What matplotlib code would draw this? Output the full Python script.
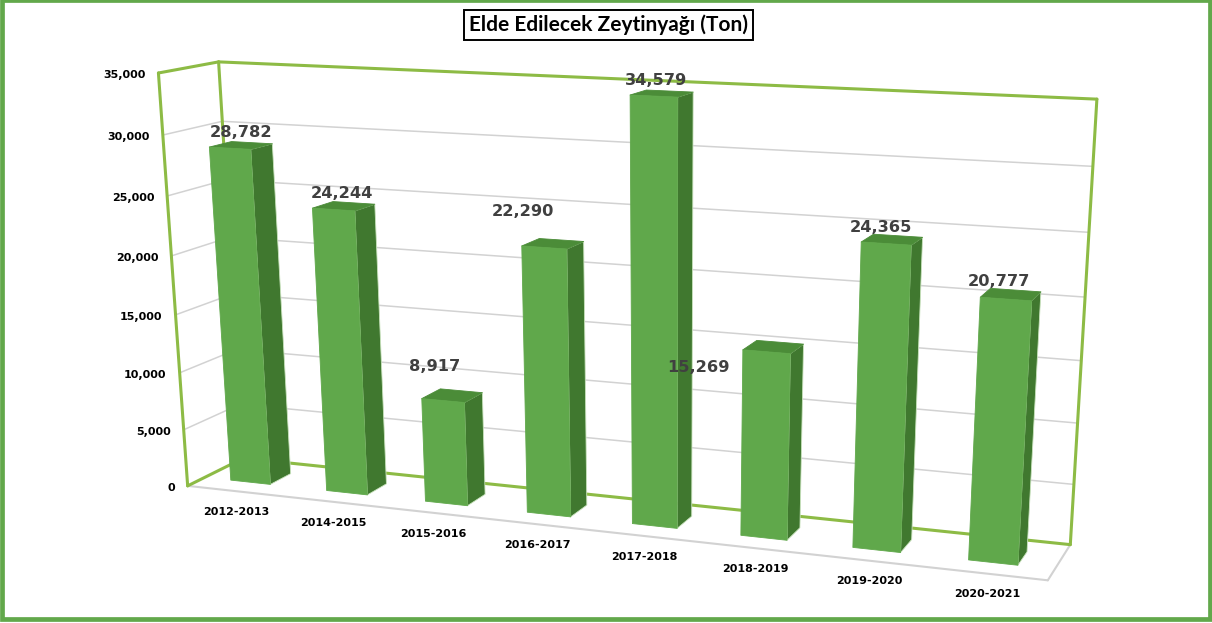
import numpy as np
import matplotlib
matplotlib.use('Agg')
import matplotlib.pyplot as plt
from matplotlib.patches import Rectangle

# data
categories = ['2012-2013', '2014-2015', '2015-2016', '2016-2017',
              '2017-2018', '2018-2019', '2019-2020', '2020-2021']
values = [28782, 24244, 8917, 22290, 34579, 15269, 24365, 20777]
y_ticks = [0, 5000, 10000, 15000, 20000, 25000, 30000, 35000]
y_max = 35000

# value label offsets from the top centre of each bar (pixels)
label_dx = [11, 8, -8, -21, 2, -68, -5, -7]
label_dy = [-16, -16, -34, -36, -16, 16, -16, -18]

GREEN_WALL = '#8DBB45'
GREY = '#D2D2D2'
FRONT = '#60A84B'
SIDE = '#40782F'
TOP = '#4B8C38'

W, H = 1212, 623

# camera fit: wall corners in unit cube (x, value, depth) -> pixels
cube = np.array([[0, 0, 0], [1, 0, 0], [0, 1, 0], [0, 0, 1],
                 [1, 0, 1], [0, 1, 1], [1, 1, 1]], dtype=float)
pix = np.array([[186, 487], [1048, 579], [160, 73], [245, 457],
                [1070, 546], [217, 62], [1097, 99]], dtype=float)


def fit_camera(pts, uv):
    A = []
    for (x, y, z), (u, v) in zip(pts, uv):
        A.append([x, y, z, 1, 0, 0, 0, 0, -u*x, -u*y, -u*z, -u])
        A.append([0, 0, 0, 0, x, y, z, 1, -v*x, -v*y, -v*z, -v])
    return np.linalg.svd(np.array(A))[2][-1].reshape(3, 4)


P = fit_camera(cube, pix)


def project(x, val, d):
    q = P @ np.array([x, val / y_max, d, 1.0])
    return q[0] / q[2], q[1] / q[2]


def line3d(ax, a, b, color, lw):
    pa, pb = project(*a), project(*b)
    ax.plot([pa[0], pb[0]], [pa[1], pb[1]], color=color, lw=lw,
            solid_capstyle='round', zorder=2)


fig = plt.figure(figsize=(W / 100, H / 100), dpi=100)
ax = fig.add_axes([0, 0, 1, 1])
ax.set_xlim(0, W)
ax.set_ylim(H, 0)
ax.axis('off')

# outer frame
ax.add_patch(Rectangle((2, 0), W - 4, H - 4, fill=False, ec='#62A84B', lw=3.4, zorder=1))

# gridlines on the walls
for t in y_ticks[1:-1]:
    line3d(ax, (0, t, 0), (0, t, 1), GREY, 1.1)
    line3d(ax, (0, t, 1), (1, t, 1), GREY, 1.1)

# floor
line3d(ax, (0, 0, 0), (1, 0, 0), GREY, 1.5)
line3d(ax, (1, 0, 0), (1, 0, 1), GREY, 1.5)

# walls
for a, b in [((0, 0, 0), (0, 0, 1)), ((0, 0, 1), (1, 0, 1)),
             ((1, 0, 1), (1, y_max, 1)), ((1, y_max, 1), (0, y_max, 1)),
             ((0, y_max, 1), (0, 0, 1)), ((0, y_max, 1), (0, y_max, 0)),
             ((0, y_max, 0), (0, 0, 0))]:
    line3d(ax, a, b, GREEN_WALL, 2.2)

# y tick labels
for t in y_ticks:
    px, py = project(0, t, 0)
    ax.text(px - 13, py + 2, f'{t:,}', ha='right', va='center', fontsize=8,
            fontweight='bold', color='black', zorder=6)

# bars
bar_w = 0.052
d0, d1 = 0.3, 0.68
n = len(values)
for i, v in enumerate(values):
    x0 = (i + 0.5) / n - bar_w / 2 - 0.002
    x1 = x0 + bar_w
    z = 3 + i * 0.01
    corners = {
        'side': [(x1, 0, d0), (x1, 0, d1), (x1, v, d1), (x1, v, d0)],
        'top': [(x0, v, d0), (x1, v, d0), (x1, v, d1), (x0, v, d1)],
        'front': [(x0, 0, d0), (x1, 0, d0), (x1, v, d0), (x0, v, d0)],
    }
    colors = {'side': SIDE, 'top': TOP, 'front': FRONT}
    for face, c3 in corners.items():
        xy = np.array([project(*c) for c in c3])
        edge = colors[face] if face != 'side' else '#C9E3BD'
        ax.fill(xy[:, 0], xy[:, 1], facecolor=colors[face], edgecolor=edge,
                lw=0.6, joinstyle='round', zorder=z)
    tx, ty = project((x0 + x1) / 2, v, d0)
    ax.text(tx + label_dx[i], ty + label_dy[i], f'{v:,}', ha='center', va='center',
            fontsize=11.7, fontweight='bold', color='#404040', zorder=8)
    lx, ly = project((x0 + x1) / 2, 0, 0)
    ax.text(lx + 2, ly + 21, categories[i], ha='center', va='center', fontsize=8,
            fontweight='bold', color='black', zorder=6)

# title
ax.text(608.5, 25, 'Elde Edilecek Zeytinyağı (Ton)', ha='center', va='center',
        fontsize=15, fontweight='bold', family='Lato', color='black',
        bbox=dict(boxstyle='square,pad=0.22', fc='white', ec='black', lw=1.4), zorder=9)

fig.savefig('out.png', dpi=100)
